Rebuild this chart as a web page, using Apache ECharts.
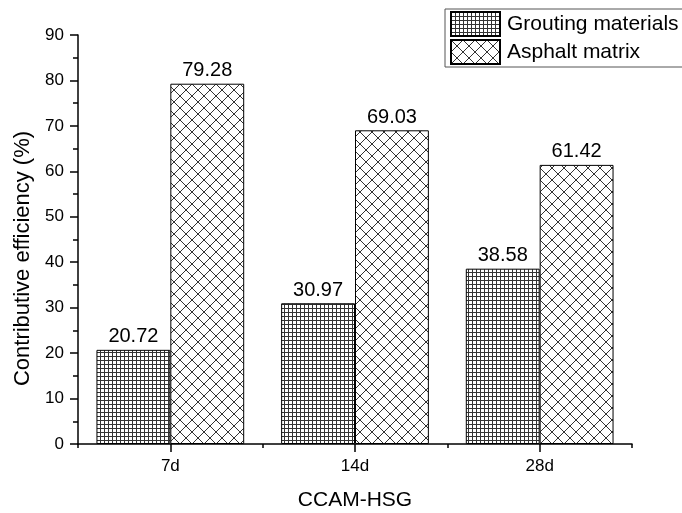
<!DOCTYPE html>
<html>
<head>
<meta charset="utf-8">
<script src="https://cdn.jsdelivr.net/npm/echarts@6/dist/echarts.min.js"></script>
<style>
html,body{margin:0;padding:0;background:#fff;}
#chart{width:682px;height:513px;}
</style>
</head>
<body>
<div id="chart"></div>
<script>
const categories = ['7d', '14d', '28d'];
const groutingValues = [20.72, 30.97, 38.58];
const asphaltValues = [79.28, 69.03, 61.42];
const seriesNames = ['Grouting materials', 'Asphalt matrix'];

function gridPattern() {
  const c = document.createElement('canvas');
  c.width = 4; c.height = 4;
  const g = c.getContext('2d');
  g.fillStyle = '#ffffff';
  g.fillRect(0, 0, 4, 4);
  g.fillStyle = '#333333';
  g.fillRect(0, 0, 4, 1);
  g.fillRect(0, 0, 1, 4);
  return c;
}
function crossPattern() {
  const s = 12;
  const c = document.createElement('canvas');
  c.width = s; c.height = s;
  const g = c.getContext('2d');
  g.fillStyle = '#ffffff';
  g.fillRect(0, 0, s, s);
  g.strokeStyle = '#333333';
  g.lineWidth = 1;
  g.beginPath();
  g.moveTo(0, 0); g.lineTo(s, s);
  g.moveTo(s, 0); g.lineTo(0, s);
  g.stroke();
  return c;
}

const FONT = 'Liberation Sans, Arial, sans-serif';
const chart = echarts.init(document.getElementById('chart'), null, {renderer: 'canvas'});
chart.setOption({
  backgroundColor: '#ffffff',
  animation: false,
  textStyle: {fontFamily: FONT, color: '#000'},
  grid: {left: 78, right: 50, top: 35, bottom: 69, containLabel: false, outerBoundsMode: 'none'},
  legend: {
    data: seriesNames,
    orient: 'vertical',
    left: 445,
    top: 9,
    icon: 'rect',
    itemWidth: 49,
    itemHeight: 24,
    itemGap: 2,
    padding: [2, 12, 2, 5],
    borderColor: '#555',
    borderWidth: 1,
    textStyle: {fontSize: 21, color: '#000', fontFamily: FONT, padding: [0, 0, 0, 2]}
  },
  xAxis: [{
    type: 'category',
    data: categories,
    position: 'bottom',
    name: 'CCAM-HSG',
    nameLocation: 'middle',
    nameGap: 46,
    nameTextStyle: {fontSize: 21, color: '#000', fontFamily: FONT},
    axisLine: {show: true, lineStyle: {color: '#000', width: 1.5}},
    axisTick: {show: true, alignWithLabel: true, length: 8, lineStyle: {color: '#000', width: 1.5}},
    axisLabel: {fontSize: 17, color: '#000', margin: 14, fontFamily: FONT},
    splitLine: {show: false}
  }, {
    type: 'category',
    data: categories,
    position: 'bottom',
    offset: 0,
    axisLine: {show: false},
    axisTick: {show: true, length: 4, lineStyle: {color: '#000', width: 1.5}},
    axisLabel: {show: false},
    splitLine: {show: false}
  }],
  yAxis: {
    type: 'value',
    min: 0,
    max: 90,
    interval: 10,
    name: 'Contributive efficiency (%)',
    nameLocation: 'middle',
    nameGap: 42,
    nameTextStyle: {fontSize: 22, color: '#000', fontFamily: FONT, padding: [0, 38, 0, 0]},
    axisLine: {show: true, lineStyle: {color: '#000', width: 1.5}},
    axisTick: {show: true, length: 8, lineStyle: {color: '#000', width: 1.5}},
    minorTick: {show: true, splitNumber: 2, length: 5, lineStyle: {color: '#000', width: 1.5}},
    axisLabel: {fontSize: 17, color: '#000', margin: 14, fontFamily: FONT},
    splitLine: {show: false}
  },
  series: [{
    name: seriesNames[0],
    type: 'bar',
    data: groutingValues,
    barGap: '0%',
    barCategoryGap: '20%',
    itemStyle: {color: {image: gridPattern(), repeat: 'repeat'}, borderColor: '#000', borderWidth: 1},
    label: {show: true, position: 'top', distance: 3, fontSize: 20, color: '#000', fontFamily: FONT}
  }, {
    name: seriesNames[1],
    type: 'bar',
    data: asphaltValues,
    barGap: '0%',
    barCategoryGap: '20%',
    itemStyle: {color: {image: crossPattern(), repeat: 'repeat'}, borderColor: '#000', borderWidth: 1},
    label: {show: true, position: 'top', distance: 3, fontSize: 20, color: '#000', fontFamily: FONT}
  }]
});
</script>
</body>
</html>
